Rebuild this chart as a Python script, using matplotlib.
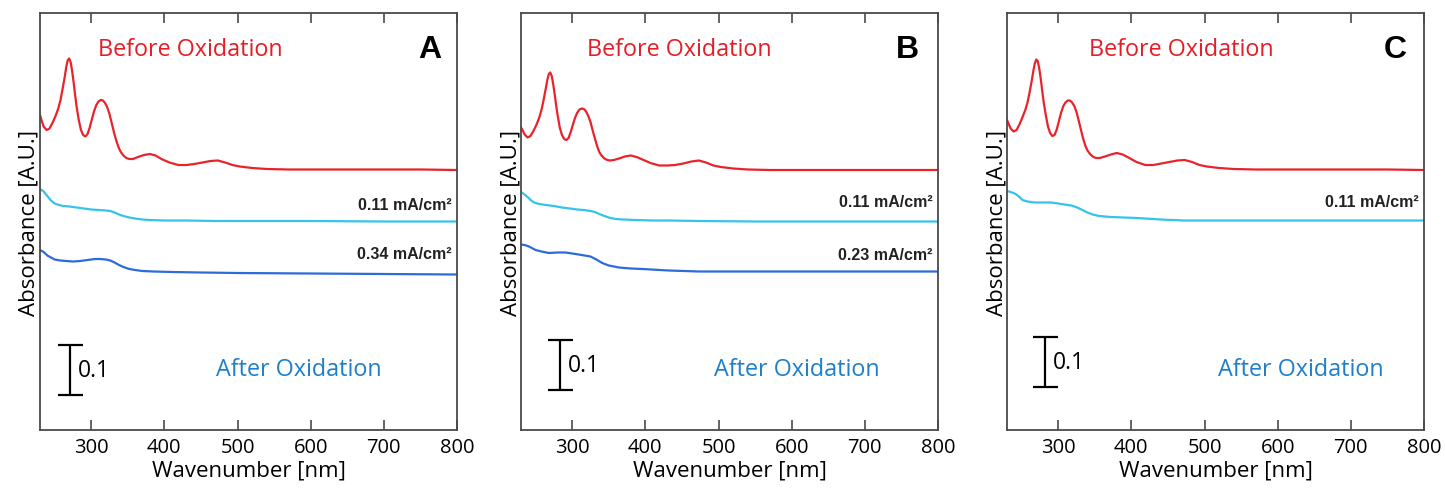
import matplotlib
matplotlib.use("Agg")
import matplotlib.pyplot as plt

plt.rcParams['font.family'] = ['Open Sans', 'DejaVu Sans']

# wavelength grids (nm) and absorbance
red_nm = [230, 232, 235, 239, 243, 247, 251, 255, 258, 261,
          264, 266, 268, 270, 272, 274, 276, 278, 280, 283,
          286, 289, 292, 295, 298, 301, 304, 307, 310, 313,
          316, 319, 322, 325, 328, 331, 334, 337, 340, 344,
          348, 352, 357, 364, 372, 380, 388, 396, 407, 419,
          430, 441, 452, 463, 473, 483, 493, 503, 520, 540,
          570, 600, 650, 700, 750, 800]
red_a = [0.630, 0.620, 0.607, 0.600, 0.603, 0.614, 0.627, 0.643, 0.660, 0.683,
         0.708, 0.727, 0.740, 0.743, 0.735, 0.717, 0.695, 0.670, 0.647, 0.620,
         0.600, 0.590, 0.587, 0.592, 0.605, 0.622, 0.638, 0.650, 0.657, 0.660,
         0.659, 0.654, 0.645, 0.632, 0.614, 0.596, 0.580, 0.567, 0.557, 0.549,
         0.544, 0.542, 0.542, 0.546, 0.550, 0.552, 0.549, 0.542, 0.535, 0.530,
         0.530, 0.532, 0.535, 0.538, 0.539, 0.535, 0.530, 0.527, 0.524, 0.522,
         0.521, 0.521, 0.521, 0.521, 0.521, 0.520]
red_b = [0.605, 0.600, 0.591, 0.585, 0.588, 0.598, 0.610, 0.625, 0.640, 0.661,
         0.684, 0.700, 0.712, 0.715, 0.708, 0.692, 0.672, 0.650, 0.630, 0.605,
         0.590, 0.582, 0.580, 0.584, 0.596, 0.611, 0.625, 0.635, 0.641, 0.643,
         0.642, 0.637, 0.628, 0.616, 0.599, 0.583, 0.568, 0.556, 0.549, 0.543,
         0.540, 0.539, 0.540, 0.543, 0.547, 0.549, 0.546, 0.541, 0.534, 0.529,
         0.529, 0.530, 0.533, 0.537, 0.539, 0.535, 0.529, 0.526, 0.523, 0.521,
         0.520, 0.520, 0.520, 0.520, 0.520, 0.520]
red_c = [0.620, 0.613, 0.603, 0.597, 0.600, 0.611, 0.625, 0.640, 0.655, 0.676,
         0.700, 0.718, 0.733, 0.741, 0.738, 0.724, 0.704, 0.680, 0.657, 0.630,
         0.607, 0.594, 0.588, 0.590, 0.601, 0.618, 0.635, 0.648, 0.655, 0.659,
         0.659, 0.655, 0.648, 0.636, 0.619, 0.601, 0.583, 0.569, 0.559, 0.551,
         0.546, 0.544, 0.544, 0.547, 0.551, 0.554, 0.551, 0.545, 0.536, 0.530,
         0.530, 0.533, 0.536, 0.539, 0.540, 0.536, 0.530, 0.527, 0.524, 0.522,
         0.521, 0.521, 0.521, 0.521, 0.521, 0.520]

cyan_a_nm = [230, 235, 240, 245, 250, 256, 262, 270, 280, 290, 300, 310, 320, 326,
             332, 338, 344, 352, 360, 370, 380, 400, 430, 470, 520, 600, 700, 800]
cyan_a = [0.482, 0.477, 0.468, 0.459, 0.453, 0.450, 0.448, 0.447, 0.445, 0.443,
          0.441, 0.440, 0.439, 0.438, 0.435, 0.431, 0.428, 0.425, 0.423, 0.421,
          0.420, 0.419, 0.419, 0.418, 0.418, 0.418, 0.417, 0.417]
blue_a_nm = [230, 235, 240, 245, 250, 258, 266, 275, 285, 295, 305, 312, 320, 326,
             332, 338, 344, 352, 360, 370, 385, 410, 450, 500, 600, 700, 800]
blue_a = [0.360, 0.356, 0.349, 0.345, 0.341, 0.339, 0.338, 0.337, 0.338, 0.340,
          0.342, 0.342, 0.341, 0.339, 0.335, 0.330, 0.326, 0.322, 0.320, 0.318,
          0.317, 0.316, 0.315, 0.314, 0.313, 0.312, 0.311]

cyan_b_nm = [230, 234, 239, 244, 248, 255, 264, 275, 286, 297, 307, 316, 325, 331,
             337, 344, 352, 360, 370, 387, 410, 432, 473, 550, 650, 800]
cyan_b = [0.476, 0.472, 0.466, 0.459, 0.455, 0.452, 0.450, 0.448, 0.445, 0.443,
          0.441, 0.440, 0.438, 0.436, 0.432, 0.428, 0.424, 0.422, 0.421, 0.420,
          0.419, 0.419, 0.418, 0.417, 0.417, 0.417]
blue_b_nm = [230, 235, 241, 246, 250, 258, 268, 280, 291, 300, 309, 317, 325, 333,
             341, 350, 364, 380, 396, 432, 473, 550, 650, 800]
blue_b = [0.371, 0.370, 0.367, 0.363, 0.360, 0.357, 0.354, 0.355, 0.355, 0.353,
          0.351, 0.349, 0.347, 0.341, 0.334, 0.329, 0.325, 0.323, 0.322, 0.319,
          0.317, 0.317, 0.317, 0.317]

cyan_c_nm = [230, 235, 242, 247, 251, 258, 267, 278, 290, 300, 308, 318, 326, 333,
             340, 347, 356, 372, 390, 408, 440, 472, 550, 650, 800]
cyan_c = [0.478, 0.476, 0.472, 0.466, 0.460, 0.457, 0.455, 0.455, 0.455, 0.453,
          0.451, 0.449, 0.445, 0.440, 0.435, 0.431, 0.428, 0.426, 0.425, 0.424,
          0.421, 0.419, 0.419, 0.419, 0.419]

panel_letters = ['A', 'B', 'C']
xticks = [300, 400, 500, 600, 700, 800]

RED = '#e8232b'
CYAN = '#35c3ea'
BLUE = '#2c6bdc'
RED_TXT = '#e41e26'
BLUE_TXT = '#1e7fcb'
SPINE = '#4a4a4a'

W, H = 1445, 489
fig = plt.figure(figsize=(W / 100, H / 100), dpi=100)

lefts = [40, 521, 1007]
panels = [
    dict(red=red_a, traces=[(cyan_a_nm, cyan_a, CYAN, '0.11 mA/cm²', 0.540),
                            (blue_a_nm, blue_a, BLUE, '0.34 mA/cm²', 0.424)],
         before_x=0.36, after_x=0.621, letter_x=0.935, bar=(271, 0.07)),
    dict(red=red_b, traces=[(cyan_b_nm, cyan_b, CYAN, '0.11 mA/cm²', 0.547),
                            (blue_b_nm, blue_b, BLUE, '0.23 mA/cm²', 0.422)],
         before_x=0.38, after_x=0.661, letter_x=0.926, bar=(283, 0.08)),
    dict(red=red_c, traces=[(cyan_c_nm, cyan_c, CYAN, '0.11 mA/cm²', 0.549)],
         before_x=0.418, after_x=0.704, letter_x=0.93, bar=(282, 0.086)),
]

for i, p in enumerate(panels):
    ax = fig.add_axes([lefts[i] / W, (H - 431) / H, 417 / W, 417 / H])
    ax.plot(red_nm, p['red'], color=RED, lw=1.6)
    for nm, a, col, lab, ly in p['traces']:
        ax.plot(nm, a, color=col, lw=1.6)
        ax.text(0.987, ly, lab, transform=ax.transAxes, ha='right', va='center',
                fontsize=11.5, fontweight='bold', color='#222222',
                family=['Liberation Sans', 'DejaVu Sans'])

    ax.set_xlim(230, 800)
    ax.set_ylim(0, 0.834)
    ax.set_xticks(xticks)
    ax.set_yticks([])
    ax.tick_params(axis='x', direction='in', top=True, length=7, width=1.2,
                   color=SPINE, labelsize=14.5, pad=5)
    for s in ax.spines.values():
        s.set_color(SPINE)
        s.set_linewidth(1.3)
    ax.set_xlabel('Wavenumber [nm]', fontsize=16, labelpad=2)
    ax.set_ylabel('Absorbance [A.U.]', fontsize=16, labelpad=0)

    ax.text(p['before_x'], 0.914, 'Before Oxidation', transform=ax.transAxes,
            ha='center', va='center', fontsize=16.8, color=RED_TXT)
    ax.text(p['after_x'], 0.146, 'After Oxidation', transform=ax.transAxes,
            ha='center', va='center', fontsize=16.8, color=BLUE_TXT)
    ax.text(p['letter_x'], 0.914, panel_letters[i], transform=ax.transAxes,
            ha='center', va='center', fontsize=23, fontweight='bold', color='black',
            family=['Liberation Sans', 'DejaVu Sans'])

    # 0.1 absorbance scale bar
    bx, by = p['bar']
    ax.errorbar([bx], [by + 0.05], yerr=[0.05], color='black', lw=1.6,
                capsize=9, capthick=1.6)
    ax.text(bx + 11, by + 0.05, '0.1', ha='left', va='center', fontsize=16.5)

fig.savefig('out.png', dpi=100)
